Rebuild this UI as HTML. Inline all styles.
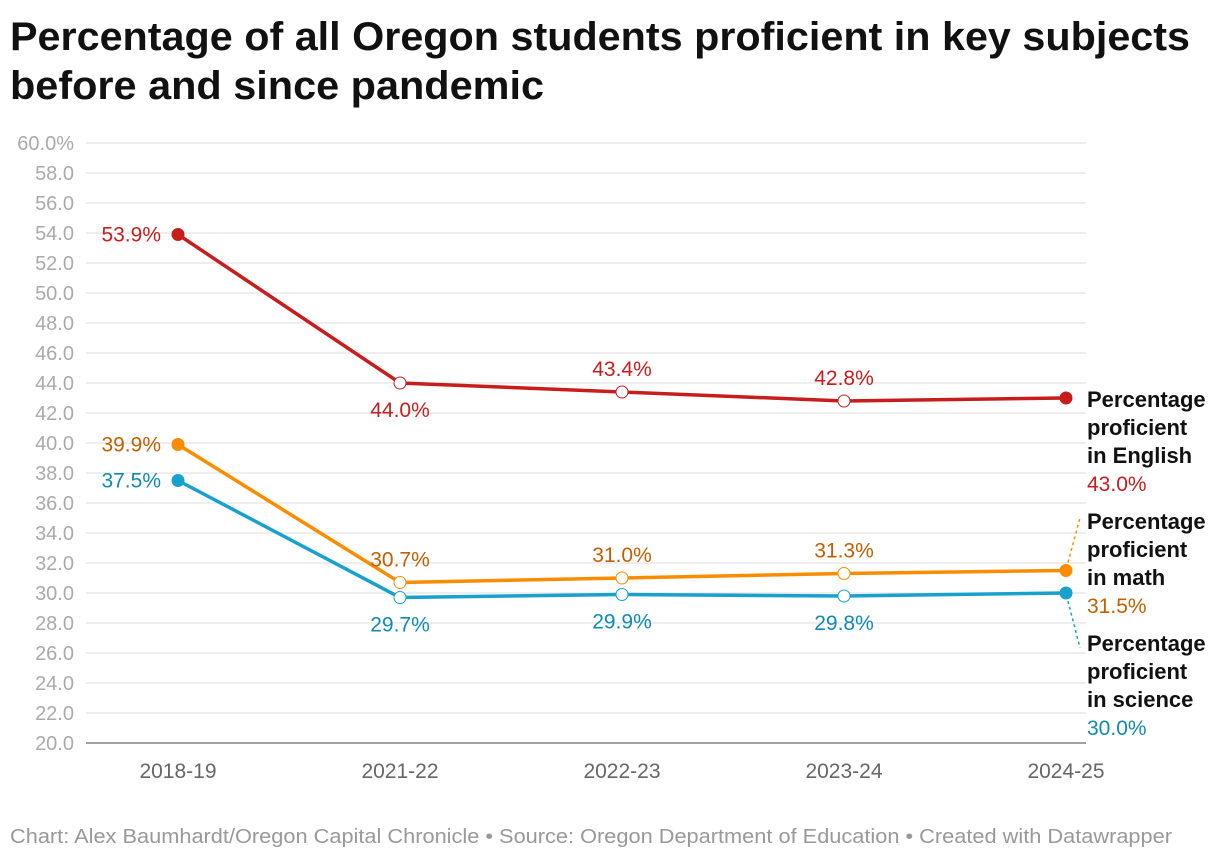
<!DOCTYPE html>
<html><head><meta charset="utf-8"><style>
body{margin:0;background:#fff;width:1220px;height:860px;overflow:hidden;font-family:"Liberation Sans",sans-serif}
</style></head><body>
<svg width="1220" height="860" style="font-family:'Liberation Sans',sans-serif">
<text x="10" y="50" font-size="40" font-weight="bold" fill="#111" textLength="1180" lengthAdjust="spacingAndGlyphs">Percentage of all Oregon students proficient in key subjects</text>
<text x="10" y="99" font-size="40" font-weight="bold" fill="#111" textLength="534" lengthAdjust="spacingAndGlyphs">before and since pandemic</text>
<g id="grid"></g><g id="series"></g><g id="labels"></g>
<text x="10" y="843" font-size="20" fill="#999" textLength="1162" lengthAdjust="spacingAndGlyphs">Chart: Alex Baumhardt/Oregon Capital Chronicle • Source: Oregon Department of Education • Created with Datawrapper</text>
</svg>
<script>
const categories=["2018-19","2021-22","2022-23","2023-24","2024-25"];
const english=[53.9,44.0,43.4,42.8,43.0];
const math=[39.9,30.7,31.0,31.3,31.5];
const science=[37.5,29.7,29.9,29.8,30.0];
const yTicks=[20,22,24,26,28,30,32,34,36,38,40,42,44,46,48,50,52,54,56,58,60];
const NS="http://www.w3.org/2000/svg";
const x=i=>178+i*222;
const y=v=>743-(v-20)*15;
function mk(tag,attrs,parent,txt){const e=document.createElementNS(NS,tag);for(const k in attrs)e.setAttribute(k,attrs[k]);if(txt!==undefined)e.textContent=txt;parent.appendChild(e);return e;}
const grid=document.getElementById('grid'),ser=document.getElementById('series'),lab=document.getElementById('labels');
yTicks.forEach((t,i)=>{
 const l=mk('line',{x1:86,x2:1086,y1:y(t),y2:y(t),stroke:t===20?'#444':'#ddd','stroke-width':1},grid);
 
 
 const tx=mk('text',{x:74,y:y(t)+7,'font-size':20,fill:'#aaa','text-anchor':'end'},grid,t.toFixed(1)+(t===60?'%':''));
 
 
});
categories.forEach((c,i)=>{
 const tx=mk('text',{x:x(i),y:778,'font-size':21,fill:'#666','text-anchor':'middle'},grid,c);
 
 
});
const defs=[
 {d:english,c:'#c71e1d',tc:'#c71e1d',name:'english',pos:['l','b','a','a']},
 {d:math,c:'#fa8c00',tc:'#c35f00',name:'math',pos:['l','a','a','a']},
 {d:science,c:'#18a1cd',tc:'#0f8bb0',name:'science',pos:['l','b','b','b']}];
defs.forEach(s=>{
 const p=mk('polyline',{points:s.d.map((v,i)=>x(i)+','+y(v)).join(' '),fill:'none',stroke:s.c,'stroke-width':3.5},ser);
 
 
 s.d.forEach((v,i)=>{
  const hollow=i>0&&i<4;
  const ci=mk('circle',{cx:x(i),cy:y(v),r:hollow?6:6.5,fill:hollow?'#fff':s.c,stroke:hollow?s.c:'none','stroke-width':1},ser);
  
  
  if(i<4){
   let tx,ty,anc='middle';
   if(s.pos[i]==='l'){tx=x(i)-17;ty=y(v)+7;anc='end';}
   else if(s.pos[i]==='a'){tx=x(i);ty=y(v)-16;}
   else{tx=x(i);ty=y(v)+34;}
   const t=mk('text',{x:tx,y:ty,'font-size':21,fill:s.tc,'text-anchor':anc},lab,v.toFixed(1)+'%');
   
   
  }
 });
});
const ends=[{n:'English',v:english[4],c:'#c71e1d',y0:407},{n:'math',v:math[4],c:'#c35f00',y0:529},{n:'science',v:science[4],c:'#0f8bb0',y0:651}];
ends.forEach(e=>{
 ['Percentage','proficient','in '+e.n].forEach((t,k)=>{
  const tt=mk('text',{x:1087,y:e.y0+k*28,'font-size':22,'font-weight':'bold',fill:'#111'},lab,t);
  
  
 });
 const tv=mk('text',{x:1087,y:e.y0+84,'font-size':21,fill:e.c},lab,e.v.toFixed(1)+'%');
 
 
});
const d1=mk('line',{x1:1068,y1:y(math[4])-8,x2:1080,y2:518,stroke:'#fa8c00','stroke-width':1.5,'stroke-dasharray':'3,3'},lab);


const d2=mk('line',{x1:1068,y1:y(science[4])+8,x2:1080,y2:648,stroke:'#18a1cd','stroke-width':1.5,'stroke-dasharray':'3,3'},lab);


</script>
</body></html>
